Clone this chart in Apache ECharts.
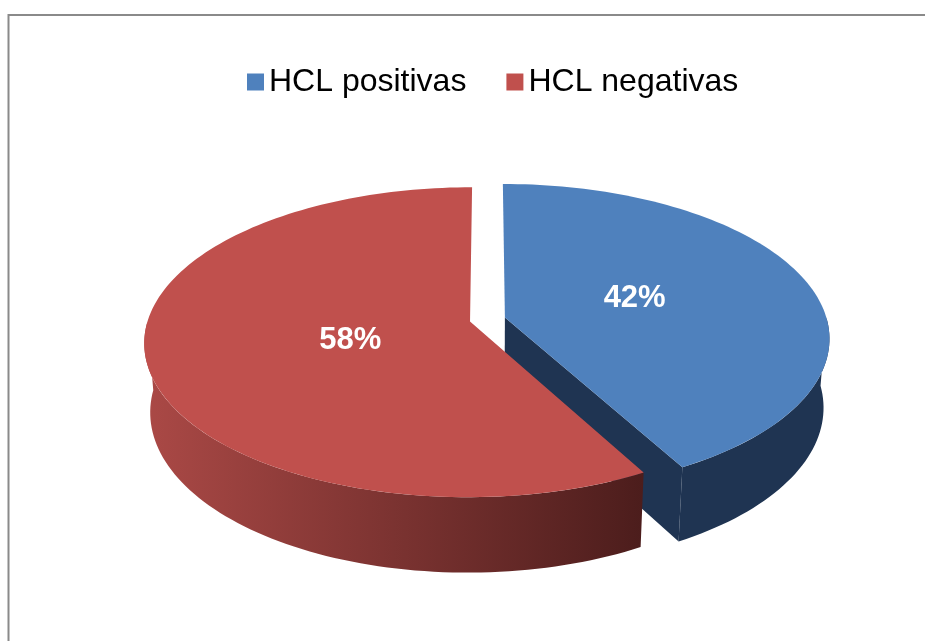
<!DOCTYPE html>
<html>
<head>
<meta charset="utf-8">
<title>HCL</title>
<script src="https://cdn.jsdelivr.net/npm/echarts@6/dist/echarts.min.js"></script>
<style>
  html, body { margin: 0; padding: 0; background: #fff; }
  #chart { width: 925px; height: 641px; }
</style>
</head>
<body>
<div id="chart"></div>
<script>
// data
const categories = ['HCL positivas', 'HCL negativas'];
const values = [42, 58];

// colours
const topColors = ['#4f81bd', '#c0504d'];
const total = values.reduce((a, b) => a + b, 0);

// fake 3D pie: tilt + perspective projection of a disc
const CX = 487.5, CY = 319.5;
const R = 322, H = 79, EXPLODE = 18;
const SIN_A = 0.471, COS_A = 0.882, DIST = 2140;

const project = (X, Y, Z) => {
  const yc = Y * COS_A - Z * SIN_A;
  const zc = Y * SIN_A + Z * COS_A;
  const s = DIST / (DIST - zc);
  return [CX + X * s, CY - yc * s];
};

const wallFill = [
  '#1f3452',
  {
    type: 'linear', x: 143, y: 0, x2: 643, y2: 0, global: true,
    colorStops: [
      { offset: 0, color: '#ab4946' },
      { offset: 1, color: '#4c1d1c' }
    ]
  }
];
const sideFill = ['#1f3452', '#4c1d1c'];

const makeRender = (idx) => (params, api) => {
  const v = api.value(0);
  let before = 0;
  for (let j = 0; j < idx; j++) before += values[j];
  const a0 = before / total * Math.PI * 2;
  const a1 = (before + v) / total * Math.PI * 2;
  const mid = (a0 + a1) / 2;
  const ox = EXPLODE * Math.sin(mid);
  const oz = -EXPLODE * Math.cos(mid);

  const rim = (a, y) => project(ox + R * Math.sin(a), y, oz - R * Math.cos(a));
  const arc = (t0, t1, y) => {
    const n = Math.max(2, Math.ceil((t1 - t0) / (Math.PI / 120)));
    const pts = [];
    for (let k = 0; k <= n; k++) pts.push(rim(t0 + (t1 - t0) * k / n, y));
    return pts;
  };
  const centreTop = project(ox, 0, oz);
  const centreBot = project(ox, -H, oz);
  const children = [];

  // cut face at the end of the slice
  if (Math.sin(a1) > 0.01) {
    children.push({
      type: 'polygon',
      shape: { points: [centreTop, rim(a1, 0), rim(a1, -H), centreBot] },
      style: { fill: sideFill[idx] }
    });
  }
  // cut face at the start of the slice
  if (-Math.sin(a0) > 0.01) {
    children.push({
      type: 'polygon',
      shape: { points: [centreTop, rim(a0, 0), rim(a0, -H), centreBot] },
      style: { fill: sideFill[idx] }
    });
  }
  // outer wall (front half only)
  const w0 = Math.max(a0, Math.PI / 2);
  const w1 = Math.min(a1, Math.PI * 1.5);
  if (w1 > w0) {
    children.push({
      type: 'polygon',
      shape: { points: arc(w0, w1, 0).concat(arc(w0, w1, -H).reverse()) },
      style: { fill: wallFill[idx] }
    });
  }
  // top face
  children.push({
    type: 'polygon',
    shape: { points: [centreTop].concat(arc(a0, a1, 0)) },
    style: { fill: topColors[idx] }
  });
  // label, placed from the slice apex along the mid angle
  const lr = R * 0.4;
  children.push({
    type: 'text',
    style: {
      text: Math.round(v / total * 100) + '%',
      x: centreTop[0] + lr * Math.sin(mid) + 5,
      y: centreTop[1] - lr * Math.cos(mid) * 0.6,
      fill: '#ffffff',
      fontSize: 31, fontWeight: 'bold', fontFamily: 'Liberation Sans, Arial',
      align: 'center', verticalAlign: 'middle'
    }
  });
  return { type: 'group', children };
};

const chart = echarts.init(document.getElementById('chart'));

const option = {
  animation: false,
  color: topColors,
  legend: {
    data: categories,
    left: 247,
    top: 65,
    padding: 0,
    icon: 'rect',
    itemWidth: 17,
    itemHeight: 17,
    itemGap: 40,
    selectedMode: false,
    textStyle: {
      fontSize: 32,
      lineHeight: 34,
      color: '#000',
      fontFamily: 'Liberation Sans, Arial'
    }
  },
  graphic: [
    {
      type: 'rect',
      shape: { x: 8.5, y: 15, width: 960, height: 700 },
      style: { fill: 'none', stroke: '#8a8a8a', lineWidth: 2 },
      silent: true
    }
  ],
  series: categories.map((name, i) => ({
    type: 'custom',
    name: name,
    coordinateSystem: 'none',
    silent: true,
    itemStyle: { color: topColors[i] },
    renderItem: makeRender(i),
    data: [[values[i]]]
  }))
};

chart.setOption(option);
window.addEventListener('resize', () => chart.resize());
</script>
</body>
</html>
